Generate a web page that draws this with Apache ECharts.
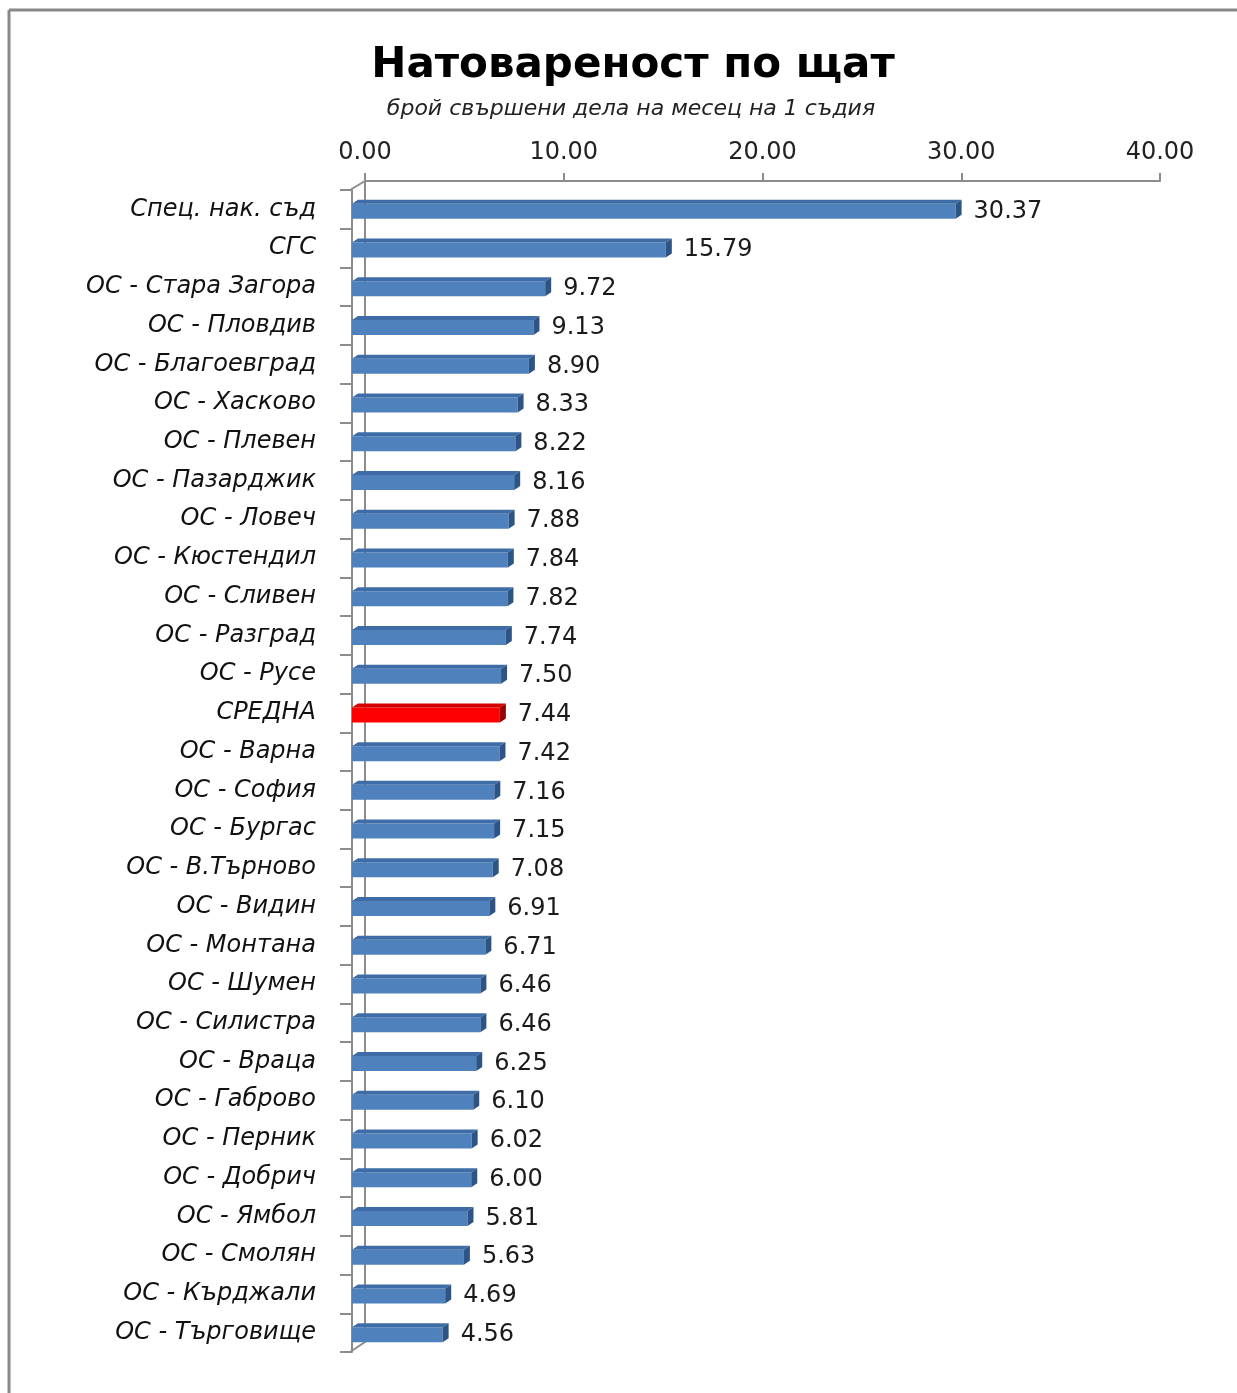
<!DOCTYPE html>
<html>
<head>
<meta charset="utf-8">
<script src="https://cdn.jsdelivr.net/npm/echarts@6/dist/echarts.min.js"></script>
<style>
  html, body { margin: 0; padding: 0; background: #fff; }
  #chart { width: 1237px; height: 1393px; }
</style>
</head>
<body>
<div id="chart"></div>
<script>
// натовареност по щат - данни
const categories = [
  'Спец. нак. съд', 'СГС', 'ОС - Стара Загора', 'ОС - Пловдив', 'ОС - Благоевград',
  'ОС - Хасково', 'ОС - Плевен', 'ОС - Пазарджик', 'ОС - Ловеч', 'ОС - Кюстендил',
  'ОС - Сливен', 'ОС - Разград', 'ОС - Русе', 'СРЕДНА', 'ОС - Варна',
  'ОС - София', 'ОС - Бургас', 'ОС - В.Търново', 'ОС - Видин', 'ОС - Монтана',
  'ОС - Шумен', 'ОС - Силистра', 'ОС - Враца', 'ОС - Габрово', 'ОС - Перник',
  'ОС - Добрич', 'ОС - Ямбол', 'ОС - Смолян', 'ОС - Кърджали', 'ОС - Търговище'
];
const values = [
  30.37, 15.79, 9.72, 9.13, 8.90,
  8.33, 8.22, 8.16, 7.88, 7.84,
  7.82, 7.74, 7.50, 7.44, 7.42,
  7.16, 7.15, 7.08, 6.91, 6.71,
  6.46, 6.46, 6.25, 6.10, 6.02,
  6.00, 5.81, 5.63, 4.69, 4.56
];
const averageName = 'СРЕДНА';

const font = 'DejaVu Sans';
const blue = { front: '#4f81bd', top: '#3e6ca6', side: '#2c5587' };
const red = { front: '#ff0000', top: '#d40000', side: '#9a0000' };

const chart = echarts.init(document.getElementById('chart'));

function renderBar(params, api) {
  const v = api.value(0);
  const idx = api.value(1);
  const start = api.coord([0, idx]);
  const end = api.coord([v, idx]);
  const h = 15;
  const dx = 6, dy = 4;
  const y0 = start[1] - h / 2 + 2;
  const c = categories[idx] === averageName ? red : blue;
  return {
    type: 'group',
    children: [
      { type: 'rect', shape: { x: start[0], y: y0, width: end[0] - start[0], height: h },
        style: { fill: c.front } },
      { type: 'polygon', shape: { points: [[start[0], y0], [end[0], y0], [end[0] + dx, y0 - dy], [start[0] + dx, y0 - dy]] },
        style: { fill: c.top } },
      { type: 'polygon', shape: { points: [[end[0], y0], [end[0] + dx, y0 - dy], [end[0] + dx, y0 + h - dy], [end[0], y0 + h]] },
        style: { fill: c.side } },
      { type: 'text', x: end[0] + dx + 12, y: start[1] + 2,
        style: { text: v.toFixed(2), fill: '#1a1a1a', font: '24px "' + font + '"', verticalAlign: 'middle', align: 'left' } }
    ]
  };
}

chart.setOption({
  animation: false,
  backgroundColor: '#fff',
  title: [
    { text: 'Натовареност по щат', left: 628, top: 40, textAlign: 'center',
      textStyle: { fontFamily: font, fontSize: 42, fontWeight: 'bold', color: '#000' } },
    { text: 'брой свършени дела на месец на 1 съдия', left: 626, top: 93, textAlign: 'center',
      textStyle: { fontFamily: font, fontSize: 22, fontStyle: 'italic', fontWeight: 'normal', color: '#222' } }
  ],
  grid: [
    { left: 365, right: 77, top: 181, bottom: 51 },   // задна стена
    { left: 352, right: 90, top: 190, bottom: 41 }    // предна равнина с баровете
  ],
  xAxis: [
    { gridIndex: 0, type: 'value', position: 'top', min: 0, max: 40, interval: 10,
      axisLine: { show: true, lineStyle: { color: '#8c8c8c', width: 2 } },
      axisTick: { show: true, length: 8, lineStyle: { color: '#8c8c8c', width: 2 } },
      axisLabel: { margin: 16, fontFamily: font, fontSize: 24, color: '#222',
        formatter: v => v.toFixed(2) },
      splitLine: { show: false } },
    { gridIndex: 1, type: 'value', min: 0, max: 40, show: false }
  ],
  yAxis: [
    { gridIndex: 0, type: 'category', inverse: true, data: categories,
      axisLine: { show: true, lineStyle: { color: '#8c8c8c', width: 2 } },
      axisTick: { show: false }, axisLabel: { show: false } },
    { gridIndex: 1, type: 'category', inverse: true, data: categories, offset: 2,
      axisLine: { show: true, lineStyle: { color: '#8c8c8c', width: 2 } },
      axisTick: { show: true, length: 12, lineStyle: { color: '#8c8c8c', width: 2 } },
      axisLabel: { margin: 34, fontFamily: font, fontSize: 24, fontStyle: 'italic', color: '#111',
        padding: [7, 0, 0, 0] } }
  ],
  series: [{
    type: 'custom',
    xAxisIndex: 1,
    yAxisIndex: 1,
    renderItem: renderBar,
    encode: { x: 0, y: 1 },
    data: values.map((v, i) => [v, i])
  }],
  graphic: [
    // рамка
    { type: 'line', shape: { x1: 9, y1: 10, x2: 9, y2: 1393 }, style: { stroke: '#888', lineWidth: 3 } },
    { type: 'line', shape: { x1: 9, y1: 10, x2: 1237, y2: 10 }, style: { stroke: '#888', lineWidth: 3 } },
    // 3D връзки между стената и предната ос
    { type: 'line', shape: { x1: 365, y1: 181, x2: 350, y2: 190 }, style: { stroke: '#8c8c8c', lineWidth: 2 } },
    { type: 'line', shape: { x1: 365, y1: 1342, x2: 350, y2: 1352 }, style: { stroke: '#8c8c8c', lineWidth: 2 } }
  ]
});

window.addEventListener('resize', function () {
  chart.resize();
});
</script>
</body>
</html>
